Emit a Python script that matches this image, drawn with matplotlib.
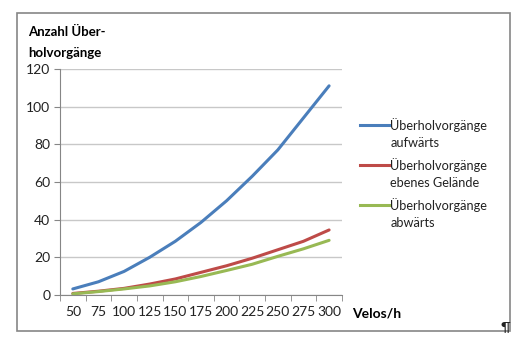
import matplotlib.pyplot as plt
from matplotlib.lines import Line2D
from matplotlib.patches import Rectangle

plt.rcParams['font.family'] = ['Lato', 'DejaVu Sans']

velos = ['50', '75', '100', '125', '150', '175', '200', '225', '250', '275', '300']
aufwaerts = [3.2, 7, 12.5, 20, 28.5, 38.5, 50, 63, 77, 94, 111]
eben = [0.8, 2, 3.5, 5.8, 8.5, 12, 15.5, 19.5, 24, 28.5, 34.5]
abwaerts = [0.6, 1.8, 3.2, 4.8, 7, 9.8, 13, 16.3, 20.5, 24.5, 29]

labels = [('Überholvorgänge', 'aufwärts'),
          ('Überholvorgänge', 'ebenes Gelände'),
          ('Überholvorgänge', 'abwärts')]
colors = ['#4A7EBB', '#BE4B48', '#98B954']

fig = plt.figure(figsize=(5.24, 3.41), dpi=100)
ax = fig.add_axes([0.1145, 0.135, 0.538, 0.663])

x = range(len(velos))
for series, color in zip([aufwaerts, eben, abwaerts], colors):
    ax.plot(x, series, color=color, lw=2.2, solid_capstyle='round')

ax.set_xlim(-0.5, len(velos) - 0.5)
ax.set_ylim(0, 120)
ax.set_yticks(range(0, 121, 20))
ax.set_xticks(list(x))
ax.set_xticklabels(velos)
ax.set_xticks([i - 0.5 for i in range(len(velos) + 1)], minor=True)
ax.tick_params(axis='x', which='major', length=0, labelsize=10, colors='#222222', pad=8)
ax.tick_params(axis='x', which='minor', length=4, color='#868686', direction='out')
ax.tick_params(axis='y', length=4, color='#868686', labelsize=10, colors='#222222', pad=3)
ax.grid(axis='y', color='#C8C8C8', lw=1)
ax.set_axisbelow(True)
for side in ['top', 'right']:
    ax.spines[side].set_visible(False)
for side in ['left', 'bottom']:
    ax.spines[side].set_color('#868686')

fig.text(0.053, 0.905, 'Anzahl Über-', fontsize=9.5, fontweight='bold', va='center')
fig.text(0.053, 0.845, 'holvorgänge', fontsize=9.5, fontweight='bold', va='center')
fig.text(0.672, 0.08, 'Velos/h', fontsize=10, fontweight='bold', va='center')

# legend, drawn by hand so the key sits on the first text line
leg_top = 0.633
step = 40 / 341
gap = 18 / 341
for i, ((line1, line2), color) in enumerate(zip(labels, colors)):
    y = leg_top - i * step
    fig.add_artist(Line2D([0.687, 0.744], [y, y], transform=fig.transFigure,
                          color=color, lw=2.2))
    fig.text(0.745, y, line1, fontsize=9.2, va='center', color='#222222')
    fig.text(0.745, y - gap, line2, fontsize=9.2, va='center', color='#222222')

fig.add_artist(Rectangle((0.032, 0.03), 0.942, 0.932, transform=fig.transFigure,
                         fill=False, edgecolor='#868686', lw=1.2))
fig.text(0.955, 0.04, '¶', fontsize=10, va='center', color='#222222')

fig.savefig('out.png', dpi=100)
